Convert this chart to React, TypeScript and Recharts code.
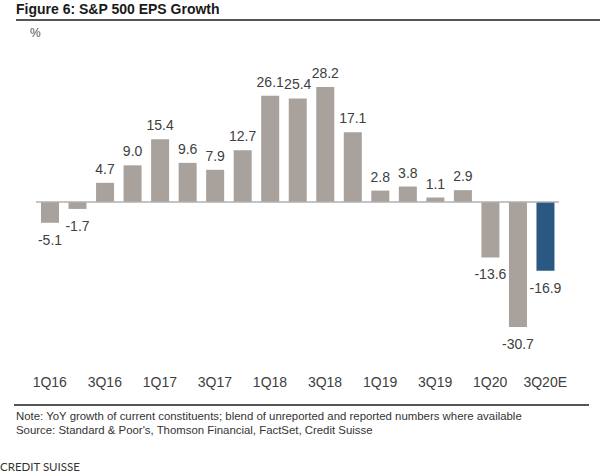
import React from 'react';
import { BarChart, Bar, XAxis, YAxis, ReferenceLine, LabelList, Cell } from 'recharts';

const categories = ['1Q16','2Q16','3Q16','4Q16','1Q17','2Q17','3Q17','4Q17','1Q18','2Q18','3Q18','4Q18','1Q19','2Q19','3Q19','4Q19','1Q20','2Q20','3Q20E'];
const epsGrowth = [-5.1,-1.7,4.7,9.0,15.4,9.6,7.9,12.7,26.1,25.4,28.2,17.1,2.8,3.8,1.1,2.9,-13.6,-30.7,-16.9];
const estimateFlags = [false,false,false,false,false,false,false,false,false,false,false,false,false,false,false,false,false,false,true];

const data = categories.map((q, i) => ({ q, v: epsGrowth[i], est: estimateFlags[i] }));

const FONT = '"Liberation Sans", Arial, Helvetica, sans-serif';

const ValueLabel = (props: any) => {
  const { x, y, width, height, value } = props;
  const top = Math.min(y, y + height);
  const bottom = Math.max(y, y + height);
  const cx = x + width / 2;
  const ty = value >= 0 ? top - 9 : bottom + 22;
  return (
    <text x={cx} y={ty} textAnchor="middle" fontSize={14} fill="#404040" fontFamily={FONT}>
      {value.toFixed(1)}
    </text>
  );
};

export default function App() {
  return (
    <div style={{ position: 'absolute', left: 0, top: 0, width: 600, height: 474, background: '#fff', fontFamily: FONT }}>
      <div style={{ position: 'absolute', left: 16, top: 1, fontSize: 14, fontWeight: 'bold', color: '#1a1a1a' }}>Figure 6: S&amp;P 500 EPS Growth</div>
      <div style={{ position: 'absolute', left: 16, top: 19, width: 584, height: 0, borderTop: '2px solid #555' }} />
      <div style={{ position: 'absolute', left: 30, top: 26, fontSize: 12, color: '#555' }}>%</div>
      <div style={{ position: 'absolute', left: 0, top: 0 }}>
        <BarChart width={600} height={474} data={data} margin={{ top: 39, right: 41, bottom: 79, left: 36 }} barCategoryGap="34%">
          <XAxis dataKey="q" axisLine={false} tickLine={false} interval={1} tick={{ fontSize: 14, fill: '#404040', fontFamily: FONT }} dy={4} />
          <YAxis hide domain={[-40, 40]} />
          <ReferenceLine y={0} stroke="#b0b0b0" strokeWidth={1.5} />
          <Bar dataKey="v" barSize={18} isAnimationActive={false}>
            {data.map((d, i) => (
              <Cell key={i} fill={d.est ? '#2a5883' : '#a9a19b'} />
            ))}
            <LabelList dataKey="v" content={ValueLabel} />
          </Bar>
        </BarChart>
      </div>
      <div style={{ position: 'absolute', left: 14, top: 404, width: 575, height: 0, borderTop: '2px solid #555' }} />
      <div style={{ position: 'absolute', left: 16, top: 409, fontSize: 11.4, color: '#333', lineHeight: '14px' }}>
        <div>Note: YoY growth of current constituents; blend of unreported and reported numbers where available</div>
        <div>Source: Standard &amp; Poor's, Thomson Financial, FactSet, Credit Suisse</div>
      </div>
      <div style={{ position: 'absolute', left: 0, top: 460, fontSize: 11.5, color: '#333', fontFamily: 'Lato, sans-serif' }}>CREDIT SUISSE</div>
    </div>
  );
}
